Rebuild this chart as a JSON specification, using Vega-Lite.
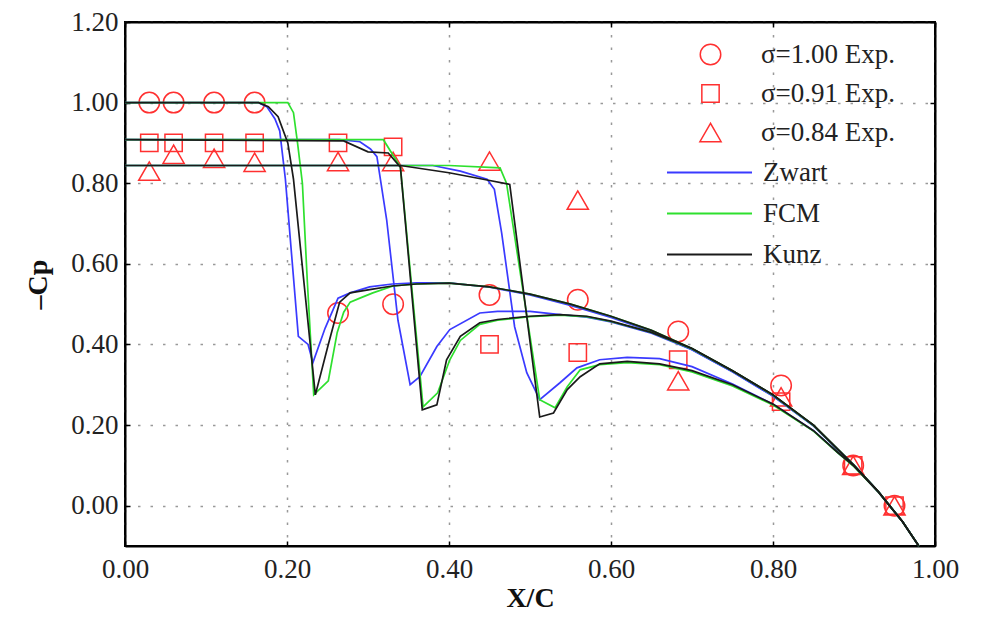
{
  "$schema": "https://vega.github.io/schema/vega-lite/v6.json",
  "width": 810,
  "height": 524,
  "autosize": {"type": "none"},
  "padding": {"left": 125, "top": 22, "right": 47, "bottom": 71},
  "background": "white",
  "config": {
    "view": {"stroke": "black", "strokeWidth": 2},
    "font": "Liberation Serif",
    "axis": {
      "labelFont": "Liberation Serif",
      "labelFontSize": 27,
      "labelColor": "#222",
      "titleFont": "Liberation Serif",
      "titleFontSize": 28,
      "titleFontWeight": "bold",
      "titleColor": "#111",
      "domainColor": "black",
      "domainWidth": 2,
      "tickColor": "black",
      "tickWidth": 1.5,
      "tickSize": -5,
      "gridColor": "#999",
      "gridDash": [2.5, 10],
      "gridWidth": 1.5
    },
    "legend": {
      "labelFont": "Liberation Serif",
      "labelFontSize": 27,
      "labelColor": "#222",
      "padding": 0,
      "rowPadding": 12
    }
  },
  "datasets": {
    "exp": [
      {"x": 0.03, "cp": 1.00, "series": "σ=1.00 Exp."},
      {"x": 0.06, "cp": 1.00, "series": "σ=1.00 Exp."},
      {"x": 0.11, "cp": 1.00, "series": "σ=1.00 Exp."},
      {"x": 0.16, "cp": 1.00, "series": "σ=1.00 Exp."},
      {"x": 0.263, "cp": 0.478, "series": "σ=1.00 Exp."},
      {"x": 0.331, "cp": 0.50, "series": "σ=1.00 Exp."},
      {"x": 0.45, "cp": 0.523, "series": "σ=1.00 Exp."},
      {"x": 0.559, "cp": 0.511, "series": "σ=1.00 Exp."},
      {"x": 0.683, "cp": 0.432, "series": "σ=1.00 Exp."},
      {"x": 0.81, "cp": 0.298, "series": "σ=1.00 Exp."},
      {"x": 0.899, "cp": 0.10, "series": "σ=1.00 Exp."},
      {"x": 0.95, "cp": 0.00, "series": "σ=1.00 Exp."},
      {"x": 0.03, "cp": 0.90, "series": "σ=0.91 Exp."},
      {"x": 0.06, "cp": 0.90, "series": "σ=0.91 Exp."},
      {"x": 0.11, "cp": 0.90, "series": "σ=0.91 Exp."},
      {"x": 0.16, "cp": 0.90, "series": "σ=0.91 Exp."},
      {"x": 0.263, "cp": 0.90, "series": "σ=0.91 Exp."},
      {"x": 0.331, "cp": 0.89, "series": "σ=0.91 Exp."},
      {"x": 0.45, "cp": 0.40, "series": "σ=0.91 Exp."},
      {"x": 0.559, "cp": 0.38, "series": "σ=0.91 Exp."},
      {"x": 0.683, "cp": 0.362, "series": "σ=0.91 Exp."},
      {"x": 0.81, "cp": 0.258, "series": "σ=0.91 Exp."},
      {"x": 0.899, "cp": 0.10, "series": "σ=0.91 Exp."},
      {"x": 0.95, "cp": 0.00, "series": "σ=0.91 Exp."},
      {"x": 0.03, "cp": 0.83, "series": "σ=0.84 Exp."},
      {"x": 0.06, "cp": 0.872, "series": "σ=0.84 Exp."},
      {"x": 0.11, "cp": 0.862, "series": "σ=0.84 Exp."},
      {"x": 0.16, "cp": 0.852, "series": "σ=0.84 Exp."},
      {"x": 0.263, "cp": 0.854, "series": "σ=0.84 Exp."},
      {"x": 0.331, "cp": 0.854, "series": "σ=0.84 Exp."},
      {"x": 0.45, "cp": 0.855, "series": "σ=0.84 Exp."},
      {"x": 0.559, "cp": 0.758, "series": "σ=0.84 Exp."},
      {"x": 0.683, "cp": 0.31, "series": "σ=0.84 Exp."},
      {"x": 0.81, "cp": 0.27, "series": "σ=0.84 Exp."},
      {"x": 0.899, "cp": 0.10, "series": "σ=0.84 Exp."},
      {"x": 0.95, "cp": 0.00, "series": "σ=0.84 Exp."}
    ],
    "cfd": [
      {"model": "Zwart", "sigma": "1.00", "x": 0, "cp": 1.00},
      {"model": "Zwart", "sigma": "1.00", "x": 0.165, "cp": 1.00},
      {"model": "Zwart", "sigma": "1.00", "x": 0.175, "cp": 0.99},
      {"model": "Zwart", "sigma": "1.00", "x": 0.185, "cp": 0.96},
      {"model": "Zwart", "sigma": "1.00", "x": 0.191, "cp": 0.93},
      {"model": "Zwart", "sigma": "1.00", "x": 0.198, "cp": 0.81},
      {"model": "Zwart", "sigma": "1.00", "x": 0.214, "cp": 0.42},
      {"model": "Zwart", "sigma": "1.00", "x": 0.226, "cp": 0.40},
      {"model": "Zwart", "sigma": "1.00", "x": 0.232, "cp": 0.355},
      {"model": "Zwart", "sigma": "1.00", "x": 0.247, "cp": 0.44},
      {"model": "Zwart", "sigma": "1.00", "x": 0.263, "cp": 0.515},
      {"model": "Zwart", "sigma": "1.00", "x": 0.278, "cp": 0.528},
      {"model": "Zwart", "sigma": "1.00", "x": 0.302, "cp": 0.543},
      {"model": "Zwart", "sigma": "1.00", "x": 0.33, "cp": 0.55},
      {"model": "Zwart", "sigma": "1.00", "x": 0.36, "cp": 0.553},
      {"model": "Zwart", "sigma": "1.00", "x": 0.40, "cp": 0.553},
      {"model": "Zwart", "sigma": "1.00", "x": 0.45, "cp": 0.542},
      {"model": "Zwart", "sigma": "1.00", "x": 0.50, "cp": 0.523},
      {"model": "Zwart", "sigma": "1.00", "x": 0.55, "cp": 0.497},
      {"model": "Zwart", "sigma": "1.00", "x": 0.60, "cp": 0.467},
      {"model": "Zwart", "sigma": "1.00", "x": 0.65, "cp": 0.432},
      {"model": "Zwart", "sigma": "1.00", "x": 0.70, "cp": 0.387},
      {"model": "Zwart", "sigma": "1.00", "x": 0.75, "cp": 0.332},
      {"model": "Zwart", "sigma": "1.00", "x": 0.80, "cp": 0.272},
      {"model": "Zwart", "sigma": "1.00", "x": 0.85, "cp": 0.198},
      {"model": "Zwart", "sigma": "1.00", "x": 0.90, "cp": 0.10},
      {"model": "Zwart", "sigma": "1.00", "x": 0.93, "cp": 0.035},
      {"model": "Zwart", "sigma": "1.00", "x": 0.96, "cp": -0.04},
      {"model": "Zwart", "sigma": "1.00", "x": 0.98, "cp": -0.10},

      {"model": "Zwart", "sigma": "0.91", "x": 0, "cp": 0.908},
      {"model": "Zwart", "sigma": "0.91", "x": 0.265, "cp": 0.908},
      {"model": "Zwart", "sigma": "0.91", "x": 0.29, "cp": 0.903},
      {"model": "Zwart", "sigma": "0.91", "x": 0.303, "cp": 0.885},
      {"model": "Zwart", "sigma": "0.91", "x": 0.311, "cp": 0.866},
      {"model": "Zwart", "sigma": "0.91", "x": 0.323, "cp": 0.71},
      {"model": "Zwart", "sigma": "0.91", "x": 0.337, "cp": 0.46},
      {"model": "Zwart", "sigma": "0.91", "x": 0.352, "cp": 0.30},
      {"model": "Zwart", "sigma": "0.91", "x": 0.364, "cp": 0.32},
      {"model": "Zwart", "sigma": "0.91", "x": 0.385, "cp": 0.395},
      {"model": "Zwart", "sigma": "0.91", "x": 0.401, "cp": 0.437},
      {"model": "Zwart", "sigma": "0.91", "x": 0.438, "cp": 0.478},
      {"model": "Zwart", "sigma": "0.91", "x": 0.46, "cp": 0.482},
      {"model": "Zwart", "sigma": "0.91", "x": 0.50, "cp": 0.482},
      {"model": "Zwart", "sigma": "0.91", "x": 0.537, "cp": 0.474},
      {"model": "Zwart", "sigma": "0.91", "x": 0.57, "cp": 0.468},
      {"model": "Zwart", "sigma": "0.91", "x": 0.60, "cp": 0.456},
      {"model": "Zwart", "sigma": "0.91", "x": 0.65, "cp": 0.428},
      {"model": "Zwart", "sigma": "0.91", "x": 0.70, "cp": 0.387},
      {"model": "Zwart", "sigma": "0.91", "x": 0.75, "cp": 0.332},
      {"model": "Zwart", "sigma": "0.91", "x": 0.80, "cp": 0.272},
      {"model": "Zwart", "sigma": "0.91", "x": 0.85, "cp": 0.198},
      {"model": "Zwart", "sigma": "0.91", "x": 0.90, "cp": 0.10},
      {"model": "Zwart", "sigma": "0.91", "x": 0.93, "cp": 0.035},
      {"model": "Zwart", "sigma": "0.91", "x": 0.96, "cp": -0.04},
      {"model": "Zwart", "sigma": "0.91", "x": 0.98, "cp": -0.10},

      {"model": "Zwart", "sigma": "0.84", "x": 0, "cp": 0.844},
      {"model": "Zwart", "sigma": "0.84", "x": 0.38, "cp": 0.844},
      {"model": "Zwart", "sigma": "0.84", "x": 0.414, "cp": 0.83},
      {"model": "Zwart", "sigma": "0.84", "x": 0.447, "cp": 0.81},
      {"model": "Zwart", "sigma": "0.84", "x": 0.456, "cp": 0.785},
      {"model": "Zwart", "sigma": "0.84", "x": 0.465, "cp": 0.677},
      {"model": "Zwart", "sigma": "0.84", "x": 0.481, "cp": 0.444},
      {"model": "Zwart", "sigma": "0.84", "x": 0.496, "cp": 0.33},
      {"model": "Zwart", "sigma": "0.84", "x": 0.512, "cp": 0.263},
      {"model": "Zwart", "sigma": "0.84", "x": 0.537, "cp": 0.305},
      {"model": "Zwart", "sigma": "0.84", "x": 0.558, "cp": 0.342},
      {"model": "Zwart", "sigma": "0.84", "x": 0.586, "cp": 0.362},
      {"model": "Zwart", "sigma": "0.84", "x": 0.62, "cp": 0.368},
      {"model": "Zwart", "sigma": "0.84", "x": 0.66, "cp": 0.365},
      {"model": "Zwart", "sigma": "0.84", "x": 0.70, "cp": 0.345},
      {"model": "Zwart", "sigma": "0.84", "x": 0.75, "cp": 0.302},
      {"model": "Zwart", "sigma": "0.84", "x": 0.80, "cp": 0.252},
      {"model": "Zwart", "sigma": "0.84", "x": 0.85, "cp": 0.186},
      {"model": "Zwart", "sigma": "0.84", "x": 0.88, "cp": 0.132},
      {"model": "Zwart", "sigma": "0.84", "x": 0.90, "cp": 0.098},
      {"model": "Zwart", "sigma": "0.84", "x": 0.93, "cp": 0.034},
      {"model": "Zwart", "sigma": "0.84", "x": 0.96, "cp": -0.04},
      {"model": "Zwart", "sigma": "0.84", "x": 0.98, "cp": -0.10},

      {"model": "FCM", "sigma": "1.00", "x": 0, "cp": 1.00},
      {"model": "FCM", "sigma": "1.00", "x": 0.201, "cp": 1.00},
      {"model": "FCM", "sigma": "1.00", "x": 0.208, "cp": 0.975},
      {"model": "FCM", "sigma": "1.00", "x": 0.213, "cp": 0.90},
      {"model": "FCM", "sigma": "1.00", "x": 0.219, "cp": 0.80},
      {"model": "FCM", "sigma": "1.00", "x": 0.225, "cp": 0.56},
      {"model": "FCM", "sigma": "1.00", "x": 0.233, "cp": 0.275},
      {"model": "FCM", "sigma": "1.00", "x": 0.251, "cp": 0.31},
      {"model": "FCM", "sigma": "1.00", "x": 0.262, "cp": 0.43},
      {"model": "FCM", "sigma": "1.00", "x": 0.27, "cp": 0.48},
      {"model": "FCM", "sigma": "1.00", "x": 0.278, "cp": 0.505},
      {"model": "FCM", "sigma": "1.00", "x": 0.29, "cp": 0.515},
      {"model": "FCM", "sigma": "1.00", "x": 0.306, "cp": 0.528},
      {"model": "FCM", "sigma": "1.00", "x": 0.331, "cp": 0.545},
      {"model": "FCM", "sigma": "1.00", "x": 0.36, "cp": 0.55},
      {"model": "FCM", "sigma": "1.00", "x": 0.40, "cp": 0.552},
      {"model": "FCM", "sigma": "1.00", "x": 0.45, "cp": 0.543},
      {"model": "FCM", "sigma": "1.00", "x": 0.50, "cp": 0.525},
      {"model": "FCM", "sigma": "1.00", "x": 0.55, "cp": 0.50},
      {"model": "FCM", "sigma": "1.00", "x": 0.60, "cp": 0.47},
      {"model": "FCM", "sigma": "1.00", "x": 0.65, "cp": 0.435},
      {"model": "FCM", "sigma": "1.00", "x": 0.70, "cp": 0.39},
      {"model": "FCM", "sigma": "1.00", "x": 0.75, "cp": 0.335},
      {"model": "FCM", "sigma": "1.00", "x": 0.80, "cp": 0.275},
      {"model": "FCM", "sigma": "1.00", "x": 0.85, "cp": 0.20},
      {"model": "FCM", "sigma": "1.00", "x": 0.90, "cp": 0.10},
      {"model": "FCM", "sigma": "1.00", "x": 0.93, "cp": 0.035},
      {"model": "FCM", "sigma": "1.00", "x": 0.96, "cp": -0.04},
      {"model": "FCM", "sigma": "1.00", "x": 0.98, "cp": -0.10},

      {"model": "FCM", "sigma": "0.91", "x": 0, "cp": 0.908},
      {"model": "FCM", "sigma": "0.91", "x": 0.319, "cp": 0.908},
      {"model": "FCM", "sigma": "0.91", "x": 0.34, "cp": 0.84},
      {"model": "FCM", "sigma": "0.91", "x": 0.368, "cp": 0.245},
      {"model": "FCM", "sigma": "0.91", "x": 0.386, "cp": 0.28},
      {"model": "FCM", "sigma": "0.91", "x": 0.401, "cp": 0.362},
      {"model": "FCM", "sigma": "0.91", "x": 0.414, "cp": 0.41},
      {"model": "FCM", "sigma": "0.91", "x": 0.438, "cp": 0.45},
      {"model": "FCM", "sigma": "0.91", "x": 0.46, "cp": 0.46},
      {"model": "FCM", "sigma": "0.91", "x": 0.50, "cp": 0.469},
      {"model": "FCM", "sigma": "0.91", "x": 0.537, "cp": 0.473},
      {"model": "FCM", "sigma": "0.91", "x": 0.57, "cp": 0.469},
      {"model": "FCM", "sigma": "0.91", "x": 0.60, "cp": 0.457},
      {"model": "FCM", "sigma": "0.91", "x": 0.65, "cp": 0.43},
      {"model": "FCM", "sigma": "0.91", "x": 0.70, "cp": 0.389},
      {"model": "FCM", "sigma": "0.91", "x": 0.75, "cp": 0.334},
      {"model": "FCM", "sigma": "0.91", "x": 0.80, "cp": 0.274},
      {"model": "FCM", "sigma": "0.91", "x": 0.85, "cp": 0.199},
      {"model": "FCM", "sigma": "0.91", "x": 0.90, "cp": 0.10},
      {"model": "FCM", "sigma": "0.91", "x": 0.93, "cp": 0.035},
      {"model": "FCM", "sigma": "0.91", "x": 0.96, "cp": -0.04},
      {"model": "FCM", "sigma": "0.91", "x": 0.98, "cp": -0.10},

      {"model": "FCM", "sigma": "0.84", "x": 0, "cp": 0.844},
      {"model": "FCM", "sigma": "0.84", "x": 0.40, "cp": 0.844},
      {"model": "FCM", "sigma": "0.84", "x": 0.463, "cp": 0.838},
      {"model": "FCM", "sigma": "0.84", "x": 0.471, "cp": 0.80},
      {"model": "FCM", "sigma": "0.84", "x": 0.512, "cp": 0.263},
      {"model": "FCM", "sigma": "0.84", "x": 0.531, "cp": 0.243},
      {"model": "FCM", "sigma": "0.84", "x": 0.546, "cp": 0.295},
      {"model": "FCM", "sigma": "0.84", "x": 0.562, "cp": 0.337},
      {"model": "FCM", "sigma": "0.84", "x": 0.586, "cp": 0.35},
      {"model": "FCM", "sigma": "0.84", "x": 0.62, "cp": 0.355},
      {"model": "FCM", "sigma": "0.84", "x": 0.66, "cp": 0.35},
      {"model": "FCM", "sigma": "0.84", "x": 0.70, "cp": 0.332},
      {"model": "FCM", "sigma": "0.84", "x": 0.75, "cp": 0.297},
      {"model": "FCM", "sigma": "0.84", "x": 0.80, "cp": 0.25},
      {"model": "FCM", "sigma": "0.84", "x": 0.85, "cp": 0.185},
      {"model": "FCM", "sigma": "0.84", "x": 0.88, "cp": 0.131},
      {"model": "FCM", "sigma": "0.84", "x": 0.90, "cp": 0.097},
      {"model": "FCM", "sigma": "0.84", "x": 0.93, "cp": 0.034},
      {"model": "FCM", "sigma": "0.84", "x": 0.96, "cp": -0.04},
      {"model": "FCM", "sigma": "0.84", "x": 0.98, "cp": -0.10},

      {"model": "Kunz", "sigma": "1.00", "x": 0, "cp": 1.00},
      {"model": "Kunz", "sigma": "1.00", "x": 0.165, "cp": 1.00},
      {"model": "Kunz", "sigma": "1.00", "x": 0.177, "cp": 0.99},
      {"model": "Kunz", "sigma": "1.00", "x": 0.189, "cp": 0.965},
      {"model": "Kunz", "sigma": "1.00", "x": 0.201, "cp": 0.90},
      {"model": "Kunz", "sigma": "1.00", "x": 0.208, "cp": 0.81},
      {"model": "Kunz", "sigma": "1.00", "x": 0.235, "cp": 0.275},
      {"model": "Kunz", "sigma": "1.00", "x": 0.251, "cp": 0.40},
      {"model": "Kunz", "sigma": "1.00", "x": 0.265, "cp": 0.505},
      {"model": "Kunz", "sigma": "1.00", "x": 0.278, "cp": 0.528},
      {"model": "Kunz", "sigma": "1.00", "x": 0.302, "cp": 0.536},
      {"model": "Kunz", "sigma": "1.00", "x": 0.33, "cp": 0.545},
      {"model": "Kunz", "sigma": "1.00", "x": 0.36, "cp": 0.55},
      {"model": "Kunz", "sigma": "1.00", "x": 0.40, "cp": 0.552},
      {"model": "Kunz", "sigma": "1.00", "x": 0.45, "cp": 0.543},
      {"model": "Kunz", "sigma": "1.00", "x": 0.50, "cp": 0.525},
      {"model": "Kunz", "sigma": "1.00", "x": 0.55, "cp": 0.50},
      {"model": "Kunz", "sigma": "1.00", "x": 0.60, "cp": 0.47},
      {"model": "Kunz", "sigma": "1.00", "x": 0.65, "cp": 0.435},
      {"model": "Kunz", "sigma": "1.00", "x": 0.70, "cp": 0.39},
      {"model": "Kunz", "sigma": "1.00", "x": 0.75, "cp": 0.335},
      {"model": "Kunz", "sigma": "1.00", "x": 0.80, "cp": 0.275},
      {"model": "Kunz", "sigma": "1.00", "x": 0.85, "cp": 0.20},
      {"model": "Kunz", "sigma": "1.00", "x": 0.90, "cp": 0.10},
      {"model": "Kunz", "sigma": "1.00", "x": 0.93, "cp": 0.035},
      {"model": "Kunz", "sigma": "1.00", "x": 0.96, "cp": -0.04},
      {"model": "Kunz", "sigma": "1.00", "x": 0.98, "cp": -0.10},

      {"model": "Kunz", "sigma": "0.91", "x": 0, "cp": 0.908},
      {"model": "Kunz", "sigma": "0.91", "x": 0.27, "cp": 0.905},
      {"model": "Kunz", "sigma": "0.91", "x": 0.30, "cp": 0.878},
      {"model": "Kunz", "sigma": "0.91", "x": 0.325, "cp": 0.875},
      {"model": "Kunz", "sigma": "0.91", "x": 0.34, "cp": 0.84},
      {"model": "Kunz", "sigma": "0.91", "x": 0.367, "cp": 0.238},
      {"model": "Kunz", "sigma": "0.91", "x": 0.385, "cp": 0.25},
      {"model": "Kunz", "sigma": "0.91", "x": 0.397, "cp": 0.362},
      {"model": "Kunz", "sigma": "0.91", "x": 0.414, "cp": 0.42},
      {"model": "Kunz", "sigma": "0.91", "x": 0.438, "cp": 0.454},
      {"model": "Kunz", "sigma": "0.91", "x": 0.46, "cp": 0.462},
      {"model": "Kunz", "sigma": "0.91", "x": 0.50, "cp": 0.47},
      {"model": "Kunz", "sigma": "0.91", "x": 0.537, "cp": 0.474},
      {"model": "Kunz", "sigma": "0.91", "x": 0.57, "cp": 0.47},
      {"model": "Kunz", "sigma": "0.91", "x": 0.60, "cp": 0.458},
      {"model": "Kunz", "sigma": "0.91", "x": 0.65, "cp": 0.43},
      {"model": "Kunz", "sigma": "0.91", "x": 0.70, "cp": 0.39},
      {"model": "Kunz", "sigma": "0.91", "x": 0.75, "cp": 0.335},
      {"model": "Kunz", "sigma": "0.91", "x": 0.80, "cp": 0.275},
      {"model": "Kunz", "sigma": "0.91", "x": 0.85, "cp": 0.20},
      {"model": "Kunz", "sigma": "0.91", "x": 0.90, "cp": 0.10},
      {"model": "Kunz", "sigma": "0.91", "x": 0.93, "cp": 0.035},
      {"model": "Kunz", "sigma": "0.91", "x": 0.96, "cp": -0.04},
      {"model": "Kunz", "sigma": "0.91", "x": 0.98, "cp": -0.10},

      {"model": "Kunz", "sigma": "0.84", "x": 0, "cp": 0.844},
      {"model": "Kunz", "sigma": "0.84", "x": 0.34, "cp": 0.844},
      {"model": "Kunz", "sigma": "0.84", "x": 0.40, "cp": 0.826},
      {"model": "Kunz", "sigma": "0.84", "x": 0.447, "cp": 0.808},
      {"model": "Kunz", "sigma": "0.84", "x": 0.475, "cp": 0.797},
      {"model": "Kunz", "sigma": "0.84", "x": 0.512, "cp": 0.22},
      {"model": "Kunz", "sigma": "0.84", "x": 0.529, "cp": 0.23},
      {"model": "Kunz", "sigma": "0.84", "x": 0.546, "cp": 0.288},
      {"model": "Kunz", "sigma": "0.84", "x": 0.562, "cp": 0.32},
      {"model": "Kunz", "sigma": "0.84", "x": 0.586, "cp": 0.352},
      {"model": "Kunz", "sigma": "0.84", "x": 0.62, "cp": 0.358},
      {"model": "Kunz", "sigma": "0.84", "x": 0.66, "cp": 0.352},
      {"model": "Kunz", "sigma": "0.84", "x": 0.70, "cp": 0.335},
      {"model": "Kunz", "sigma": "0.84", "x": 0.75, "cp": 0.30},
      {"model": "Kunz", "sigma": "0.84", "x": 0.80, "cp": 0.252},
      {"model": "Kunz", "sigma": "0.84", "x": 0.85, "cp": 0.186},
      {"model": "Kunz", "sigma": "0.84", "x": 0.88, "cp": 0.132},
      {"model": "Kunz", "sigma": "0.84", "x": 0.90, "cp": 0.098},
      {"model": "Kunz", "sigma": "0.84", "x": 0.93, "cp": 0.034},
      {"model": "Kunz", "sigma": "0.84", "x": 0.96, "cp": -0.04},
      {"model": "Kunz", "sigma": "0.84", "x": 0.98, "cp": -0.10}
    ]
  },
  "layer": [
    {
      "data": {"name": "exp"},
      "mark": {"type": "point", "filled": false, "stroke": "#ff3030", "strokeWidth": 1.5, "opacity": 1},
      "encoding": {
        "x": {
          "field": "x", "type": "quantitative",
          "scale": {"domain": [0, 1], "nice": false, "zero": false},
          "axis": {"orient": "top", "labels": false, "title": null, "grid": false, "values": [0, 0.2, 0.4, 0.6, 0.8, 1.0]}
        },
        "y": {
          "field": "cp", "type": "quantitative",
          "scale": {"domain": [-0.1, 1.2], "nice": false, "zero": false},
          "axis": {"orient": "right", "labels": false, "title": null, "grid": false, "values": [0, 0.2, 0.4, 0.6, 0.8, 1.0, 1.2]}
        },
        "shape": {
          "field": "series", "type": "nominal",
          "scale": {"domain": ["σ=1.00 Exp.", "σ=0.91 Exp.", "σ=0.84 Exp."], "range": ["circle", "square", "triangle-up"]},
          "legend": {"title": null, "orient": "none", "legendX": 572, "legendY": 19, "labelOffset": 37, "rowPadding": 11, "symbolStrokeColor": "#ff3030", "symbolFillColor": "transparent", "symbolStrokeWidth": 1.5}
        },
        "size": {
          "field": "series", "type": "nominal",
          "scale": {"type": "ordinal", "domain": ["σ=1.00 Exp.", "σ=0.91 Exp.", "σ=0.84 Exp."], "range": [420, 300, 450]},
          "legend": {"title": null, "orient": "none", "legendX": 572, "legendY": 19, "labelOffset": 37, "rowPadding": 11, "symbolStrokeColor": "#ff3030", "symbolFillColor": "transparent", "symbolStrokeWidth": 1.5}
        }
      }
    },
    {
      "data": {"name": "cfd"},
      "mark": {"type": "line", "strokeWidth": 1.7},
      "encoding": {
        "x": {
          "field": "x", "type": "quantitative",
          "scale": {"domain": [0, 1], "nice": false, "zero": false},
          "axis": {"orient": "bottom", "grid": true, "title": "X/C", "format": ".2f", "values": [0, 0.2, 0.4, 0.6, 0.8, 1.0], "labelPadding": 15, "titlePadding": 2, "labelFlush": false}
        },
        "y": {
          "field": "cp", "type": "quantitative",
          "scale": {"domain": [-0.1, 1.2], "nice": false, "zero": false},
          "axis": {"orient": "left", "grid": true, "title": "–Cp", "format": ".2f", "values": [0, 0.2, 0.4, 0.6, 0.8, 1.0, 1.2], "labelPadding": 12, "titlePadding": 18}
        },
        "color": {
          "field": "model", "type": "nominal",
          "scale": {"domain": ["Zwart", "FCM", "Kunz"], "range": ["#3a3aff", "#2ee02e", "#1a1a1a"]},
          "legend": {"title": null, "orient": "none", "legendX": 569, "legendY": 135, "symbolType": "M-3,0H3", "symbolSize": 803, "symbolStrokeWidth": 2, "labelOffset": 38, "rowPadding": 12}
        },
        "detail": {"field": "sigma", "type": "nominal"},
        "order": {"field": "x", "type": "quantitative"}
      }
    }
  ],
  "resolve": {"axis": {"x": "independent", "y": "independent"}}
}
